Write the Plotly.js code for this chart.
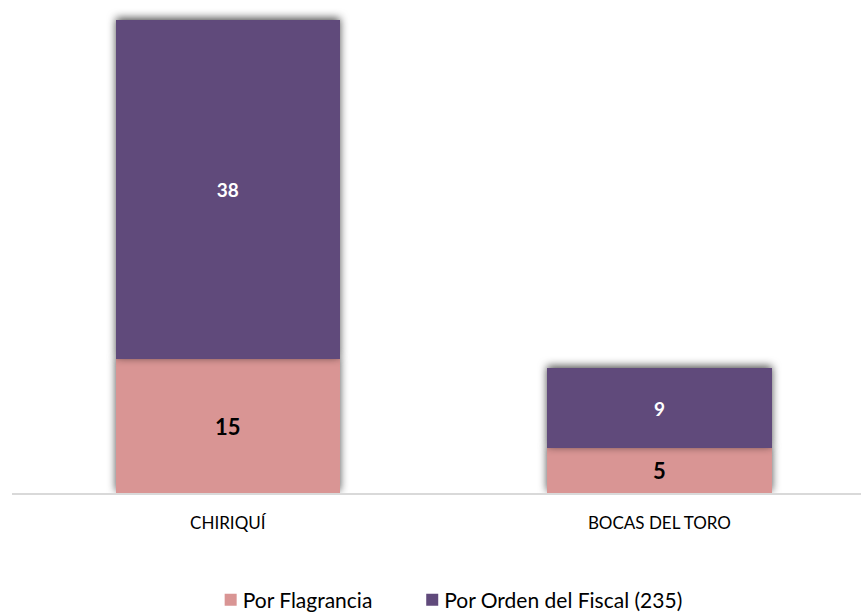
<!DOCTYPE html>
<html>
<head>
<meta charset="utf-8">
<script src="https://cdn.plot.ly/plotly-3.0.1.min.js"></script>
<style>
  html, body { margin: 0; padding: 0; background: #fff; }
  #chart { width: 861px; height: 612px; }
  /* soft drop shadow like the office chart */
  #chart .trace.bars .point path { filter: drop-shadow(0 -2px 4px rgba(0,0,0,0.7)); }
  /* pull legend text closer to its swatch */
  #chart .legendtext { transform: translateX(-8px); }
</style>
</head>
<body>
<div id="chart"></div>
<script>
  // Stacked bars: arrests per province
  var provinces = ["CHIRIQUÍ", "BOCAS DEL TORO"];
  var flagrancia = [15, 5];
  var ordenFiscal = [38, 9];
  var seriesNames = ["Por Flagrancia", "Por Orden del Fiscal (235)"];

  var PINK = "#d99594";
  var PURPLE = "#604a7b";
  var FONT = "Lato, 'Open Sans', sans-serif";
  // extra room between the two legend entries
  var LEGEND_PAD = "\u00a0\u00a0\u00a0\u00a0\u00a0";

  var traces = [
    {
      type: "bar",
      name: seriesNames[0] + LEGEND_PAD,
      x: provinces,
      y: flagrancia,
      width: 0.52,
      marker: { color: PINK },
      text: flagrancia.map(String),
      textposition: "inside",
      insidetextanchor: "middle",
      textfont: { family: FONT, size: 22, color: "#000", weight: 700 },
      hoverinfo: "x+y+name"
    },
    {
      type: "bar",
      name: seriesNames[1],
      x: provinces,
      y: ordenFiscal,
      width: 0.52,
      marker: { color: PURPLE },
      text: ordenFiscal.map(String),
      textposition: "inside",
      insidetextanchor: "middle",
      textfont: { family: FONT, size: 19, color: "#fff", weight: 700 },
      hoverinfo: "x+y+name"
    }
  ];

  var layout = {
    width: 861,
    height: 612,
    barmode: "stack",
    paper_bgcolor: "#fff",
    plot_bgcolor: "#fff",
    font: { family: FONT, size: 14, color: "#000" },
    margin: { l: 12, r: 0, t: 2, b: 119, autoexpand: false },
    showlegend: true,
    legend: {
      orientation: "h",
      x: 0.234, xanchor: "left",
      y: -0.218, yanchor: "middle",
      font: { family: FONT, size: 21, color: "#000" },
      traceorder: "normal",
      itemwidth: 30
    },
    xaxis: {
      type: "category",
      range: [-0.5, 1.467],
      automargin: false,
      showline: true,
      linecolor: "#d9d9d9",
      linewidth: 1.5,
      ticks: "",
      ticklabelstandoff: 14,
      tickfont: { family: FONT, size: 17, color: "#000" },
      showgrid: false,
      zeroline: false
    },
    yaxis: {
      range: [0, 55],
      automargin: false,
      showticklabels: false,
      showgrid: false,
      zeroline: false,
      showline: false,
      ticks: ""
    }
  };

  Plotly.newPlot("chart", traces, layout, { displayModeBar: false, staticPlot: true });
</script>
</body>
</html>
